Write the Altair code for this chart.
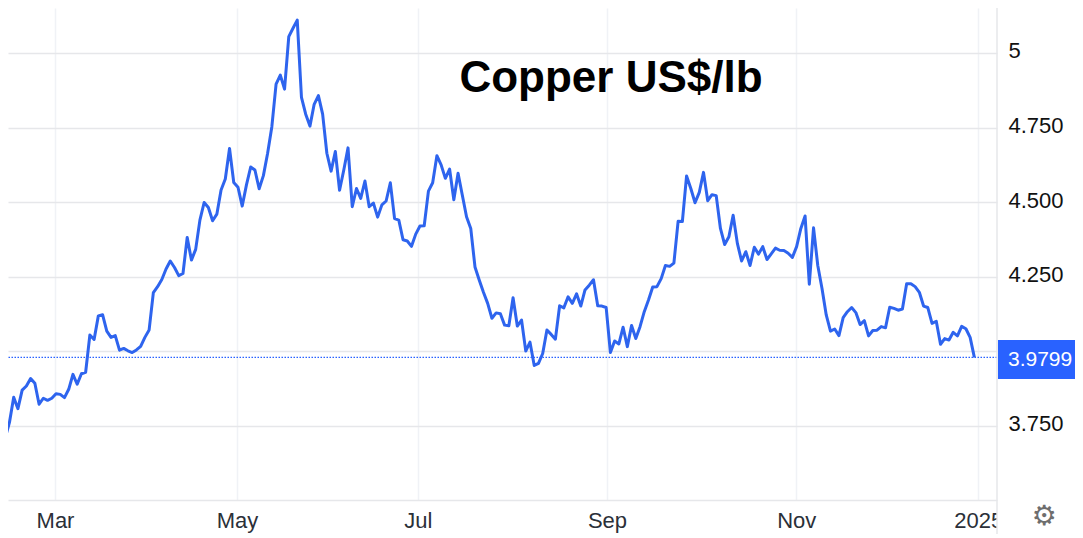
import altair as alt
import pandas as pd

prices = [
 3.722,3.710,3.762,3.846,3.808,3.870,3.884,3.909,3.893,3.823,3.843,3.836,3.843,3.858,3.856,3.845,
 3.873,3.923,3.890,3.925,3.930,4.055,4.040,4.119,4.123,4.068,4.047,4.053,4.004,4.010,4.002,3.996,
 4.005,4.017,4.047,4.072,4.197,4.217,4.241,4.276,4.303,4.281,4.254,4.261,4.382,4.306,4.342,
 4.440,4.499,4.482,4.438,4.460,4.541,4.578,4.680,4.566,4.550,4.487,4.558,4.618,4.608,4.545,4.589,
 4.664,4.753,4.896,4.926,4.879,5.055,5.083,5.110,4.851,4.795,4.755,4.828,4.857,4.795,4.664,4.604,
 4.670,4.540,4.608,4.682,4.485,4.546,4.513,4.571,4.485,4.497,4.450,4.491,4.504,4.565,4.445,4.440,
 4.374,4.370,4.352,4.393,4.420,4.421,4.537,4.565,4.656,4.625,4.580,4.611,
 4.508,4.597,4.524,4.451,4.412,4.283,4.239,4.198,4.161,4.111,4.129,4.126,4.088,4.086,4.180,4.085,
 4.105,4.001,4.031,3.953,3.960,3.993,4.072,4.057,4.041,4.153,4.146,4.183,4.161,4.193,4.152,4.206,
 4.222,4.240,4.153,4.152,4.147,3.996,4.035,4.025,4.081,4.016,4.087,4.043,4.083,4.133,
 4.172,4.216,4.217,4.244,4.288,4.285,4.296,4.436,4.435,4.588,4.546,4.498,4.533,4.600,4.505,4.525,
 4.522,4.412,4.358,4.384,4.456,4.362,4.303,4.334,4.288,4.349,4.326,4.351,4.308,4.327,4.346,4.339,
 4.338,4.329,4.315,4.351,4.412,4.454,4.225,4.414,4.288,4.211,4.122,4.068,4.075,4.053,
 4.113,4.133,4.147,4.130,4.090,4.103,4.052,4.070,4.071,4.083,4.079,4.148,4.144,4.138,4.142,4.227,
 4.227,4.217,4.198,4.152,4.147,4.094,4.101,4.024,4.043,4.038,4.064,4.052,4.084,4.076,4.047,3.9799,
]
last_price = [3.9799]
month_ticks = [12.76, 55.77, 98.5, 143.2, 187.9, 230.9]
month_labels = ["Mar", "May", "Jul", "Sep", "Nov", "2025"]
price_ticks = [5, 4.75, 4.5, 4.25, 4.0, 3.75]
title_text = ["Copper US$/lb"]
last_label = ["3.9799"]
gear = ["\u2699"]

FONT = "Liberation Sans"
GRID = "#e6e7ea"
VGRID = "#f0f2f6"
BLUE = "#2e64ee"

df = pd.DataFrame({"i": range(len(prices)), "price": prices})
x_scale = alt.Scale(domain=[1.654, 235.35], nice=False, zero=False)
y_scale = alt.Scale(domain=[3.502, 5.1508], nice=False, zero=False)

label_expr = " : ".join(
    f"datum.value == {t} ? '{l}'" for t, l in zip(month_ticks, month_labels)
) + " : ''"

x_axis = alt.Axis(values=month_ticks, labelExpr=label_expr, title=None, grid=True,
                  gridColor=VGRID, gridWidth=1.5, domain=True, domainColor=GRID, domainWidth=1.5,
                  ticks=False, labelFont=FONT, labelFontSize=22, labelColor="#2b3038",
                  labelPadding=10, labelFlush=False, labelOverlap=False, labelBound=False)
y_axis = alt.Axis(values=price_ticks, orient="right", title=None, grid=True, gridColor=GRID,
                  gridWidth=1.5, domain=False, ticks=False, labelFont=FONT, labelFontSize=22,
                  labelColor="#111111", labelPadding=11, labelOffset=-2, labelOverlap=False,
                  labelExpr="datum.value == 5 ? '5' : datum.value == 4 ? '' : format(datum.value, '.3f')")

line = alt.Chart(df).mark_line(color=BLUE, strokeWidth=3, strokeJoin="round", clip=True).encode(
    x=alt.X("i:Q", scale=x_scale, axis=x_axis),
    y=alt.Y("price:Q", scale=y_scale, axis=y_axis),
)
last_rule = alt.Chart(pd.DataFrame({"p": last_price})).mark_rule(
    color="#2962ff", strokeWidth=1.4, strokeDash=[1.5, 1.5]
).encode(y=alt.Y("p:Q", scale=y_scale, axis=y_axis))

one = pd.DataFrame({"a": [0]})
cover = alt.Chart(one).mark_rect(color="white").encode(
    x=alt.value(989), x2=alt.value(1067), y=alt.value(493), y2=alt.value(526))
right_rule = alt.Chart(one).mark_rule(color=GRID, strokeWidth=1.5).encode(
    x=alt.value(989), y=alt.value(0), y2=alt.value(526))
tag = alt.Chart(one).mark_rect(color="#2962ff").encode(
    x=alt.value(990), x2=alt.value(1067), y=alt.value(332), y2=alt.value(371))
tag_text = alt.Chart(pd.DataFrame({"t": last_label})).mark_text(
    font=FONT, fontSize=21, color="white", align="left", baseline="middle"
).encode(text="t:N", x=alt.value(1000), y=alt.value(352))
title = alt.Chart(pd.DataFrame({"t": title_text})).mark_text(
    font=FONT, fontSize=44, fontWeight="bold", color="black", align="center", baseline="middle"
).encode(text="t:N", x=alt.value(603), y=alt.value(71))
gear_mark = alt.Chart(pd.DataFrame({"t": gear})).mark_text(
    font="DejaVu Sans", fontSize=28, color="#6e6e6e", align="center", baseline="middle"
).encode(text="t:N", x=alt.value(1036), y=alt.value(509))

chart = alt.layer(
    line, last_rule, cover, right_rule, tag, tag_text, title, gear_mark
).properties(
    width=989, height=492,
    padding={"left": 0, "top": 0, "right": 78, "bottom": 34},
    autosize=alt.AutoSizeParams(type="none"),
).configure_view(stroke=None)

chart.save("out.html", embed_options={"renderer": "svg", "actions": False})
